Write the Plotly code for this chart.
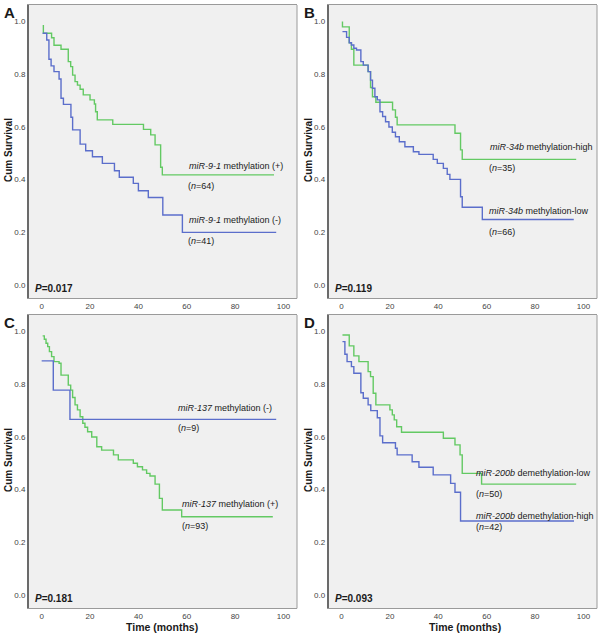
import plotly.graph_objects as go

# ---------------- data ----------------
# Panel A
a_pos_t = [0.7, 0.7, 4.1, 5.1, 8.0, 11.0, 12.0, 12.8, 13.8, 14.8, 15.9, 17.2, 20.0, 21.8, 22.3, 23.0, 29.4, 42.1, 45.1, 46.9, 49.2, 49.9, 96.1]
a_pos_s = [0.987, 0.956, 0.939, 0.910, 0.895, 0.848, 0.829, 0.797, 0.772, 0.759, 0.743, 0.722, 0.703, 0.687, 0.658, 0.627, 0.610, 0.591, 0.570, 0.532, 0.447, 0.418, 0.418]
a_neg_t = [0.4, 2.1, 3.0, 3.9, 5.1, 7.2, 8.0, 9.0, 12.1, 12.8, 15.9, 18.2, 21.0, 25.1, 30.1, 32.1, 37.9, 40.0, 44.1, 50.1, 58.2, 97.0]
a_neg_s = [0.956, 0.930, 0.857, 0.832, 0.810, 0.782, 0.709, 0.686, 0.637, 0.589, 0.535, 0.510, 0.487, 0.462, 0.434, 0.409, 0.386, 0.358, 0.332, 0.266, 0.200, 0.200]

# Panel B
b_high_t = [0.4, 0.4, 3.2, 4.1, 5.1, 11.0, 12.0, 12.8, 14.2, 21.1, 22.3, 23.0, 46.9, 49.2, 49.9, 97.0]
b_high_s = [1.0, 0.980, 0.920, 0.895, 0.835, 0.810, 0.750, 0.715, 0.694, 0.665, 0.637, 0.608, 0.576, 0.513, 0.477, 0.477]
b_low_t = [0.4, 2.1, 3.2, 4.1, 5.1, 6.2, 8.0, 9.0, 11.0, 12.0, 12.8, 13.8, 14.8, 15.9, 17.0, 18.2, 19.6, 21.0, 22.3, 23.9,
           26.2, 29.7, 32.0, 37.9, 39.6, 42.1, 43.7, 44.8, 49.2, 49.9, 58.2, 96.0]
b_low_s = [0.962, 0.940, 0.920, 0.911, 0.899, 0.892, 0.848, 0.835, 0.810, 0.778, 0.747, 0.715, 0.703, 0.658, 0.640, 0.620, 0.600, 0.580, 0.563, 0.544,
           0.525, 0.506, 0.496, 0.477, 0.462, 0.443, 0.420, 0.401, 0.335, 0.295, 0.249, 0.249]

# Panel C
c_pos_t = [0.4, 1.1, 1.8, 2.5, 3.2, 4.1, 5.1, 7.2, 8.0, 11.0, 12.0, 12.8, 13.8, 14.8, 15.9, 17.0, 17.9, 19.0, 20.7, 22.8,
           24.8, 29.7, 31.7, 37.9, 39.6, 41.7, 43.4, 44.8, 46.9, 48.7, 49.9, 57.9, 95.6]
c_pos_s = [0.984, 0.971, 0.956, 0.943, 0.924, 0.905, 0.886, 0.880, 0.835, 0.797, 0.778, 0.750, 0.722, 0.703, 0.677, 0.652, 0.637, 0.620, 0.600, 0.563,
           0.550, 0.532, 0.513, 0.500, 0.487, 0.475, 0.462, 0.452, 0.421, 0.367, 0.323, 0.297, 0.297]
c_neg_t = [0.0, 4.8, 11.7, 97.0]
c_neg_s = [0.889, 0.778, 0.667, 0.667]

# Panel D
d_low_t = [0.4, 3.2, 5.1, 7.2, 11.0, 12.0, 13.1, 14.2, 20.0, 21.0, 21.8, 22.8, 24.8, 42.1, 46.9, 49.0, 49.9, 57.9, 97.0]
d_low_s = [0.987, 0.946, 0.908, 0.886, 0.848, 0.829, 0.766, 0.722, 0.703, 0.684, 0.665, 0.639, 0.618, 0.595, 0.570, 0.532, 0.462, 0.421, 0.421]
d_high_t = [0.4, 1.4, 2.3, 4.1, 5.1, 8.0, 9.0, 11.0, 12.1, 14.8, 15.9, 17.0, 22.3, 23.0, 29.2, 32.0, 37.9, 45.1, 46.9, 49.2, 96.1]
d_high_s = [0.962, 0.914, 0.886, 0.867, 0.842, 0.768, 0.747, 0.722, 0.700, 0.673, 0.604, 0.578, 0.557, 0.532, 0.506, 0.485, 0.456, 0.424, 0.390, 0.281, 0.281]

x_ticks = [0, 20, 40, 60, 80, 100]
y_ticks = [0.0, 0.2, 0.4, 0.6, 0.8, 1.0]

# ---------------- style ----------------
GREEN = "#63c963"
BLUE = "#5b6ecb"
BG = "#f0f0f0"
FONT = "Arial, Liberation Sans, sans-serif"

fig = go.Figure()

panels = [
    ("", [0.0483, 0.495], [0.5302, 0.9921], [(a_pos_t, a_pos_s, GREEN), (a_neg_t, a_neg_s, BLUE)]),
    ("2", [0.548, 0.995], [0.5302, 0.9921], [(b_high_t, b_high_s, GREEN), (b_low_t, b_low_s, BLUE)]),
    ("3", [0.0483, 0.495], [0.042, 0.5039], [(c_pos_t, c_pos_s, GREEN), (c_neg_t, c_neg_s, BLUE)]),
    ("4", [0.548, 0.995], [0.042, 0.5039], [(d_low_t, d_low_s, GREEN), (d_high_t, d_high_s, BLUE)]),
]

layout = {}
for suf, xd, yd, curves in panels:
    for t, s, col in curves:
        fig.add_trace(go.Scatter(x=t, y=s, mode="lines", line=dict(color=col, width=1.4, shape="hv"),
                                 xaxis="x" + suf, yaxis="y" + suf, showlegend=False, hoverinfo="skip"))
    layout["xaxis" + suf] = dict(domain=xd, anchor="y" + suf, range=[-5.25, 105.6], tickvals=x_ticks,
                                 showgrid=False, zeroline=False, showline=True, mirror=True,
                                 linecolor="#9a9a9a", linewidth=1, ticks="",
                                 tickfont=dict(family=FONT, size=8, color="#444"))
    layout["yaxis" + suf] = dict(domain=yd, anchor="x" + suf, range=[-0.0505, 1.063], tickvals=y_ticks,
                                 tickformat=".1f", showgrid=False, zeroline=False, showline=True, mirror=False,
                                 linecolor="#6a6a6a", linewidth=2, ticks="",
                                 tickfont=dict(family=FONT, size=8, color="#444"))

fig.update_layout(width=600, height=635, margin=dict(l=0, r=0, t=0, b=0),
                  paper_bgcolor="white", plot_bgcolor=BG, **layout)

for suf in ["", "2", "3", "4"]:
    xr = "x" + suf
    yr = "y" + suf
    fig.add_shape(type="line", xref=xr + " domain", yref=yr + " domain", x0=1, x1=1, y0=0, y1=1,
                  line=dict(color="#9a9a9a", width=1))

ann = []
def txt(text, x, y, xref, yref, size=9, **kw):
    ann.append(dict(text=text, x=x, y=y, xref=xref, yref=yref, showarrow=False,
                    font=dict(family=FONT, size=size, color="#1a1a1a"), **kw))

lab = [
    ("x", "y", "<i>miR-9-1</i> methylation (+)", 60.1, 0.453),
    ("x", "y", "(<i>n</i>=64)", 59.7, 0.376),
    ("x", "y", "<i>miR-9-1</i> methylation (-)", 60.1, 0.247),
    ("x", "y", "(<i>n</i>=41)", 59.7, 0.168),
    ("x2", "y2", "<i>miR-34b</i> methylation-high", 60.5, 0.525),
    ("x2", "y2", "(<i>n</i>=35)", 60.1, 0.444),
    ("x2", "y2", "<i>miR-34b</i> methylation-low", 60.1, 0.281),
    ("x2", "y2", "(<i>n</i>=66)", 60.1, 0.201),
    ("x3", "y3", "<i>miR-137</i> methylation (-)", 55.5, 0.710),
    ("x3", "y3", "(<i>n</i>=9)", 55.5, 0.634),
    ("x3", "y3", "<i>miR-137</i> methylation (+)", 57.2, 0.346),
    ("x3", "y3", "(<i>n</i>=93)", 57.2, 0.263),
    ("x4", "y4", "<i>miR-200b</i> demethylation-low", 54.7, 0.462),
    ("x4", "y4", "(<i>n</i>=50)", 54.7, 0.384),
    ("x4", "y4", "<i>miR-200b</i> demethylation-high", 54.7, 0.301),
    ("x4", "y4", "(<i>n</i>=42)", 54.7, 0.259),
]
for xr, yr, t, x, y in lab:
    txt(t, x, y, xr, yr, size=9, xanchor="left", yanchor="middle")

for xr, yr, p in [("x", "y", "0.017"), ("x2", "y2", "0.119"), ("x3", "y3", "0.181"), ("x4", "y4", "0.093")]:
    txt("<b><i>P</i>=" + p + "</b>", -3.4, -0.012, xr, yr, size=10, xanchor="left", yanchor="middle")

for letter, px, py in [("A", 9, 12), ("B", 309, 12), ("C", 9, 322), ("D", 309, 322)]:
    txt("<b>" + letter + "</b>", px / 600, 1 - py / 635, "paper", "paper", size=15,
        xanchor="center", yanchor="middle")

for px, py in [(8, 150), (308, 150), (8, 460), (308, 460)]:
    txt("<b>Cum Survival</b>", px / 600, 1 - py / 635, "paper", "paper", size=10,
        xanchor="center", yanchor="middle", textangle=-90)

for px in [162, 465]:
    txt("<b>Time (months)</b>", px / 600, 1 - 627 / 635, "paper", "paper", size=10.5,
        xanchor="center", yanchor="middle")

fig.update_layout(annotations=ann)
fig.write_html("out.html", config={"displayModeBar": False},
               post_script="document.body.style.margin='0';document.body.style.overflow='hidden';")
